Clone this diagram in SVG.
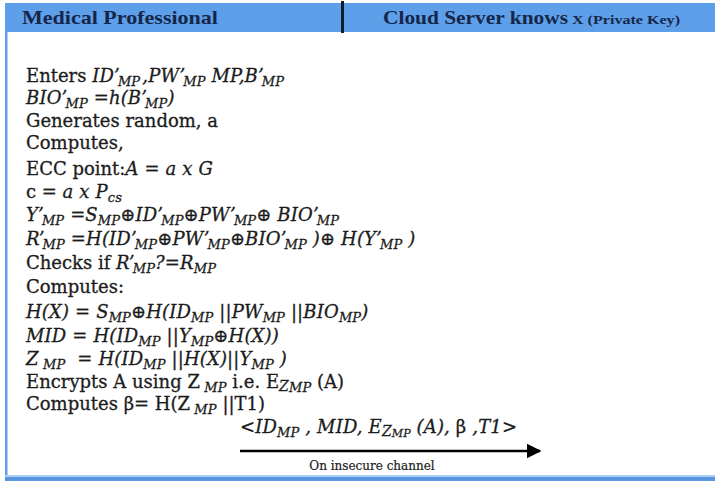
<svg xmlns="http://www.w3.org/2000/svg" width="715" height="481" viewBox="0 0 715 481">
  <style>
    .hd { font-family: "Liberation Serif", "DejaVu Serif", serif; font-weight: bold; fill: #15264a; }
    .t { font-family: "DejaVu Serif", "Liberation Serif", serif; font-size: 18px; fill: #1c1c1c; stroke: #1c1c1c; stroke-width: 0.3; }
    .i { font-style: italic; letter-spacing: 0.15px; }
    .s { font-size: 13px; }
    .sm { font-family: "DejaVu Serif", "Liberation Serif", serif; font-size: 12px; fill: #1c1c1c; stroke: #1c1c1c; stroke-width: 0.2; }
    .wire { stroke: #000; stroke-width: 2.5; fill: none; }
  </style>
  <defs>
    <marker id="head" viewBox="0 0 10 10" refX="9" refY="5" markerWidth="6" markerHeight="6" markerUnits="strokeWidth" orient="auto">
      <path d="M0,0 L10,5 L0,10 Z" fill="#000"/>
    </marker>
  </defs>

  <rect x="0" y="0" width="715" height="481" fill="#ffffff"/>

  <!-- column headings -->
  <g id="header">
    <rect x="5" y="3" width="710" height="29" fill="#5d9fe9"/>
    <rect x="341" y="1" width="3" height="32" fill="#111a2c"/>
    <text class="hd" x="22" y="24" font-size="19" textLength="196" lengthAdjust="spacingAndGlyphs">Medical Professional</text>
    <text class="hd" x="383" y="24" font-size="19" textLength="185" lengthAdjust="spacingAndGlyphs">Cloud Server knows</text>
    <text class="hd" x="572" y="24" font-size="13" textLength="108" lengthAdjust="spacingAndGlyphs">X (Private Key)</text>
  </g>

  <!-- frame edges -->
  <rect x="5" y="32" width="2.5" height="446" fill="#5d9fe9"/>
  <rect x="5" y="475" width="710" height="2" fill="#a9d0f6"/>
  <rect x="5" y="477" width="710" height="4" fill="#5a97de"/>

  <!-- medical professional side computations -->
  <g id="medical-professional">
    <text class="t" x="26" y="82">Enters <tspan class="i">ID’<tspan class="s" dx="-2" dy="4">MP</tspan><tspan dy="-4" dx="2">,PW’</tspan><tspan class="s" dx="-2" dy="4">MP</tspan><tspan dy="-4"> MP,B’</tspan><tspan class="s" dx="-2" dy="4">MP</tspan></tspan></text>
    <text class="t i" x="26" y="104">BIO’<tspan class="s" dx="-2" dy="4">MP</tspan><tspan dy="-4"> =h(B’</tspan><tspan class="s" dx="-2" dy="4">MP</tspan><tspan dy="-4">)</tspan></text>
    <text class="t" x="26" y="127">Generates random, a</text>
    <text class="t" x="26" y="149">Computes,</text>
    <text class="t" x="26" y="175">ECC point:<tspan class="i">A = a x G</tspan></text>
    <text class="t" x="26" y="198">c = <tspan class="i">a x P<tspan class="s" dy="4">cs</tspan></tspan></text>
    <text class="t i" x="26" y="221">Y’<tspan class="s" dx="-2" dy="4">MP</tspan><tspan dy="-4"> =S</tspan><tspan class="s" dy="4">MP</tspan><tspan dy="-4">⊕ID’</tspan><tspan class="s" dx="-2" dy="4">MP</tspan><tspan dy="-4">⊕PW’</tspan><tspan class="s" dx="-2" dy="4">MP</tspan><tspan dy="-4">⊕ BIO’</tspan><tspan class="s" dx="-2" dy="4">MP</tspan></text>
    <text class="t i" x="26" y="245">R’<tspan class="s" dx="-2" dy="4">MP</tspan><tspan dy="-4"> =H(ID’</tspan><tspan class="s" dx="-2" dy="4">MP</tspan><tspan dy="-4">⊕PW’</tspan><tspan class="s" dx="-2" dy="4">MP</tspan><tspan dy="-4">⊕BIO’</tspan><tspan class="s" dx="-2" dy="4">MP</tspan><tspan dy="-4"> )⊕ H(Y’</tspan><tspan class="s" dx="-2" dy="4">MP</tspan><tspan dy="-4"> )</tspan></text>
    <text class="t" x="26" y="269">Checks if <tspan class="i">R’<tspan class="s" dx="-2" dy="4">MP</tspan><tspan dy="-4">?=R</tspan><tspan class="s" dy="4">MP</tspan></tspan></text>
    <text class="t" x="26" y="293">Computes:</text>
    <text class="t i" x="26" y="318">H(X) = S<tspan class="s" dy="4">MP</tspan><tspan dy="-4">⊕H(ID</tspan><tspan class="s" dy="4">MP</tspan><tspan dy="-4"> ||PW</tspan><tspan class="s" dy="4">MP</tspan><tspan dy="-4"> ||BIO</tspan><tspan class="s" dy="4">MP</tspan><tspan dy="-4">)</tspan></text>
    <text class="t i" x="26" y="342">MID = H(ID<tspan class="s" dy="4">MP</tspan><tspan dy="-4"> ||Y</tspan><tspan class="s" dy="4">MP</tspan><tspan dy="-4">⊕H(X))</tspan></text>
    <text class="t i" x="26" y="365">Z<tspan class="s" dy="4"> MP</tspan><tspan dy="-4" dx="12">= H(ID</tspan><tspan class="s" dy="4">MP</tspan><tspan dy="-4"> ||H(X)||Y</tspan><tspan class="s" dy="4">MP</tspan><tspan dy="-4"> )</tspan></text>
    <text class="t" x="26" y="388">Encrypts A using Z<tspan class="s i" dy="4"> MP</tspan><tspan dy="-4"> i.e. E</tspan><tspan class="i" font-size="14" dy="3">Z</tspan><tspan class="s i" font-size="11" dy="1">MP</tspan><tspan dy="-4"> (A)</tspan></text>
    <text class="t" x="26" y="410">Computes β= H(Z<tspan class="s i" dy="4"> MP</tspan><tspan dy="-4"> ||T1)</tspan></text>
  </g>

  <!-- login request message -->
  <g id="connectors">
    <text class="t i" x="240" y="433">&lt;ID<tspan class="s" dy="4">MP</tspan><tspan dy="-4"> , MID, E</tspan><tspan font-size="14" dy="3">Z</tspan><tspan font-size="11" dy="1">MP</tspan><tspan dy="-4"> (A), </tspan><tspan font-style="normal">β</tspan><tspan> ,T1&gt;</tspan></text>
    <line class="wire" x1="240" y1="451" x2="540" y2="451" marker-end="url(#head)"/>
    <text class="sm" x="372" y="470" text-anchor="middle">On insecure channel</text>
  </g>
</svg>
